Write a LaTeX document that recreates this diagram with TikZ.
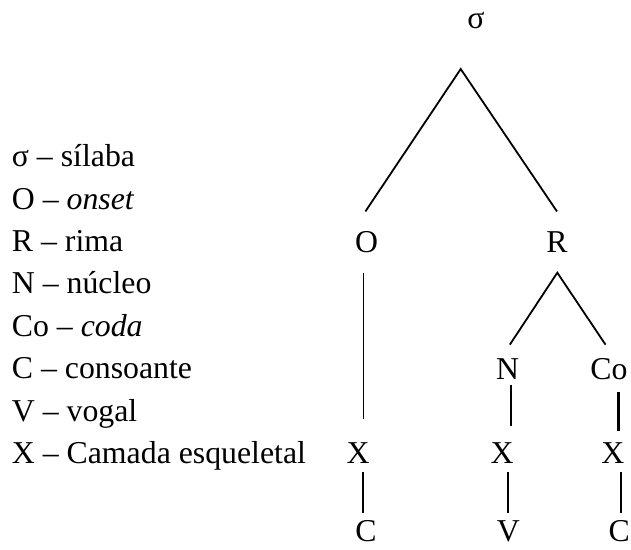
\documentclass[tikz,border=0pt]{standalone}
\usepackage{fontspec}
\setmainfont{Liberation Serif}

\tikzset{
  lab/.style={inner sep=0pt, outer sep=0pt, anchor=base, text height=20.5pt, text depth=0pt},
  link/.style={line width=1.8pt},
}

\begin{document}
\begin{tikzpicture}[x=1pt, y=-1pt, font=\fontsize{31.8}{38}\selectfont]
  \useasboundingbox (0,0) rectangle (631,549);
  % legenda
  \foreach \txt [count=\i from 0] in {σ – sílaba, O – \textit{onset}, R – rima, N – núcleo,
      Co – \textit{coda}, C – consoante, V – vogal, X – Camada esqueletal}
    \node[anchor=base west, inner sep=0pt] (leg\i) at (11.7, 166.7+42.4*\i) {\txt};

  % arvore
  \node[lab, text height=14pt] (sigma) at (476, 28.3) {σ};
  \node[lab] (O) at (366.5, 252.7) {O};
  \node[lab] (R) at (557, 252.7) {R};
  \node[lab] (N) at (507.5, 379.3) {N};
  \node[lab] (Co) at (609, 379.3) {Co};
  \node[lab] (X1) at (358, 463.3) {X};
  \node[lab] (X2) at (502, 463.3) {X};
  \node[lab] (X3) at (612.8, 463.3) {X};
  \node[lab] (C1) at (366, 541.5) {C};
  \node[lab] (V) at (508.3, 541.5) {V};
  \node[lab] (C2) at (619.2, 541.5) {C};

  \coordinate (sroot) at (460.7, 69);
  \coordinate (rroot) at (557.3, 272.7);

  \draw[link, shorten <=25pt, shorten >=25pt] ([xshift=-15pt]O.north) -- (sroot) -- ([xshift=14pt]R.north);
  \draw[link, shorten <=17pt, shorten >=17pt] ([xshift=-7pt]N.north) -- (rroot) -- ([xshift=6pt]Co.north);

  \draw[link, shorten <=20pt, shorten >=24pt] ([xshift=-3pt]O.south) -- ([xshift=-3pt]O.south |- X1.north);
  \draw[link, shorten <=5.7pt, shorten >=16.6pt] ([xshift=3.5pt]N.south) -- ([xshift=3.5pt]N.south |- X2.north);
  \draw[line width=2.4pt, shorten <=12.7pt, shorten >=11.6pt] ([xshift=9.3pt]Co.south) -- ([xshift=9.3pt]Co.south |- X3.north);

  \draw[link, shorten <=8.4pt, shorten >=8pt] ([xshift=5.3pt]X1.south) -- ([xshift=5.3pt]X1.south |- C1.north);
  \draw[link, shorten <=8.4pt, shorten >=8pt] ([xshift=6.3pt]X2.south) -- ([xshift=6.3pt]X2.south |- V.north);
  \draw[link, shorten <=8.4pt, shorten >=8pt] ([xshift=7.9pt]X3.south) -- ([xshift=7.9pt]X3.south |- C2.north);
\end{tikzpicture}
\end{document}
